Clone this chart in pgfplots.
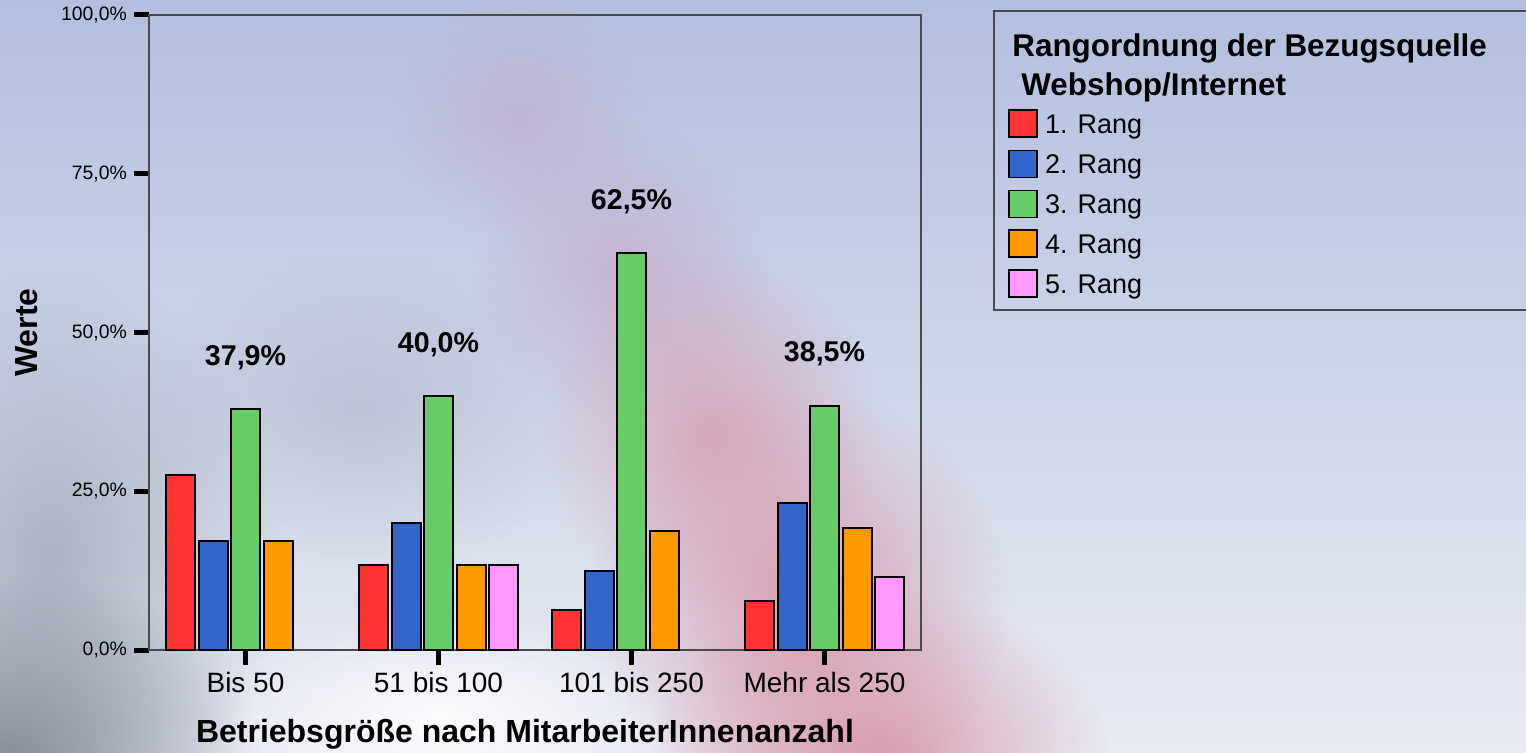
\documentclass[border=0pt]{standalone}
\usepackage{fontspec}
\setmainfont{Liberation Sans}
\usepackage{pgfplots}
\pgfplotsset{compat=1.18}
\usetikzlibrary{fadings}
\definecolor{cRed}{HTML}{FF3333}
\definecolor{cBlue}{HTML}{3366CC}
\definecolor{cGreen}{HTML}{66CC66}
\definecolor{cOrange}{HTML}{FF9900}
\definecolor{cPink}{HTML}{FF99FF}
\definecolor{bgTop}{HTML}{B3BFDF}
\definecolor{bgBot}{HTML}{E8EBF3}
\definecolor{axisgray}{HTML}{4A4A4A}
\definecolor{bandPink}{HTML}{D898AC}
\definecolor{bandMauve}{HTML}{C4A2C4}
\definecolor{leftGrey}{HTML}{98A0B0}
\definecolor{darkGrey}{HTML}{727A8A}
\definecolor{midGrey}{HTML}{A8ACBE}
\tikzfading[name=soft, inner color=transparent!0, outer color=transparent!100]
\begin{document}
\begin{tikzpicture}
\useasboundingbox (0,0) rectangle (763pt,-376.5pt);
\begin{scope}[x=0.5pt,y=-0.5pt]
\clip (0,0) rectangle (1526,753);
\shade[top color=bgTop, bottom color=bgBot] (0,0) rectangle (1526,753);
\fill[leftGrey, opacity=0.7, path fading=soft] (50,560) ellipse [x radius=115pt, y radius=150pt];
\fill[darkGrey, opacity=0.8, path fading=soft] (10,760) ellipse [x radius=125pt, y radius=95pt];
\fill[midGrey, opacity=0.45, path fading=soft] (360,410) ellipse [x radius=120pt, y radius=80pt];
\fill[bandMauve, opacity=0.5, path fading=soft] (520,120) ellipse [x radius=65pt, y radius=60pt];
\fill[bandMauve, opacity=0.6, path fading=soft] (620,270) ellipse [x radius=75pt, y radius=75pt];
\fill[bandPink, opacity=0.75, path fading=soft] (710,430) ellipse [x radius=85pt, y radius=90pt];
\fill[bandPink, opacity=0.9, path fading=soft] (800,600) ellipse [x radius=105pt, y radius=105pt];
\fill[bandPink, opacity=0.95, path fading=soft] (880,760) ellipse [x radius=115pt, y radius=85pt];
\fill[white, opacity=0.85, path fading=soft] (440,720) ellipse [x radius=115pt, y radius=55pt];
% legend frame and title
\draw[axisgray, line width=0.75pt] (994,11) rectangle (1540,310);
\node[anchor=base west, inner sep=0pt, font=\fontsize{15.7}{18}\selectfont\bfseries] at (1012,57) {Rangordnung der Bezugsquelle};
\node[anchor=base west, inner sep=0pt, font=\fontsize{15.7}{18}\selectfont\bfseries] at (1021,96) {Webshop/Internet};
\end{scope}
\begin{axis}[
  at={(74.5pt,-325pt)}, anchor=south west,
  scale only axis, width=386pt, height=317.5pt,
  xmin=-0.5, xmax=3.5, ymin=0, ymax=100,
  ybar=1.75pt, bar width=14.5pt,
  xtick={0,1,2,3},
  xticklabels={Bis 50, 51 bis 100, 101 bis 250, Mehr als 250},
  ytick={0,25,50,75,100},
  yticklabels={{0,0\%},{25,0\%},{50,0\%},{75,0\%},{100,0\%}},
  tick pos=left, tick align=outside, major tick length=7.5pt,
  tick style={black, line width=2.5pt},
  axis line style={draw=axisgray, line width=0.6pt},
  xticklabel style={font=\fontsize{14}{16}\selectfont},
  yticklabel style={font=\fontsize{9.7}{11}\selectfont},
  xlabel={Betriebsgröße nach MitarbeiterInnenanzahl},
  xlabel style={at={(axis description cs:0.487,-0.1449)}, anchor=base, font=\fontsize{16}{19}\selectfont\bfseries},
  ylabel={Werte},
  ylabel style={at={(axis description cs:-0.1438,0.5)}, anchor=base, font=\fontsize{16}{19}\selectfont\bfseries},
  legend style={at={(rel axis cs:1.1127,0.858)}, anchor=north west, draw=none, fill=none,
    inner sep=0pt, column sep=3.5pt, row sep=0pt,
    font=\fontsize{13.5}{16}\selectfont,
    nodes={inner sep=0pt, minimum height=20pt, anchor=base}},
  legend cell align=left,
  legend image code/.code={\draw[#1, line width=0.8pt] (0pt,-1.95pt) rectangle (14pt,11.55pt);},
  clip=false,
]
\addplot[fill=cRed, draw=black, line width=1pt] coordinates {(0,27.59) (1,13.33) (2,6.25) (3,7.69)};
\addlegendentry{1. Rang}
\addplot[fill=cBlue, draw=black, line width=1pt] coordinates {(0,17.24) (1,20.00) (2,12.50) (3,23.08)};
\addlegendentry{2. Rang}
\addplot[fill=cGreen, draw=black, line width=1pt,
  nodes near coords={\pgfmathprintnumber[fixed,fixed zerofill,precision=1,use comma,assume math mode=true]{\pgfplotspointmeta}\%},
  nodes near coords style={anchor=base, yshift=22pt, text=black, font=\fontsize{14.3}{17}\selectfont\bfseries}]
  coordinates {(0,37.93) (1,40.00) (2,62.50) (3,38.46)};
\addlegendentry{3. Rang}
\addplot[fill=cOrange, draw=black, line width=1pt] coordinates {(0,17.24) (1,13.33) (2,18.75) (3,19.23)};
\addlegendentry{4. Rang}
\addplot[fill=cPink, draw=black, line width=1pt] coordinates {(1,13.33) (3,11.54)};
\addlegendentry{5. Rang}
\end{axis}
\end{tikzpicture}
\end{document}
